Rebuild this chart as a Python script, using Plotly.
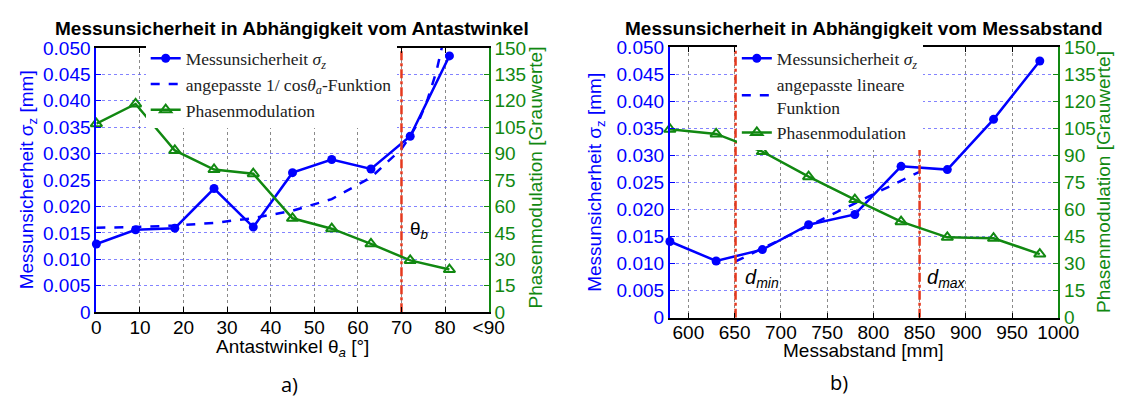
import plotly.graph_objects as go

# ---------------- data ----------------
angle_deg = [0, 9, 18, 27, 36, 45, 54, 63, 72, 81]
sigma_angle = [0.0129, 0.0156, 0.0159, 0.0234, 0.0161, 0.0264, 0.0289, 0.0271, 0.0333, 0.0485]
phase_angle = [107.0, 118.2, 91.8, 81.0, 78.6, 53.3, 47.4, 38.8, 29.4, 24.2]
fit_angle_x = [0, 9, 18, 27, 36, 45, 54, 63, 70, 72, 74, 76, 78, 80]
fit_angle_y = [0.0160, 0.0161, 0.0164, 0.0169, 0.0178, 0.0192, 0.0214, 0.0255,
               0.0309, 0.0333, 0.0362, 0.0403, 0.0455, 0.0528]
theta_b = 70

dist_mm = [580, 630, 680, 730, 780, 830, 880, 930, 980]
sigma_dist = [0.0141, 0.0105, 0.0126, 0.0172, 0.0191, 0.0280, 0.0274, 0.0367, 0.0475]
phase_dist = [104.6, 102.0, 92.2, 78.3, 65.6, 53.3, 44.6, 44.1, 35.3]
fit_dist_x = [651, 850]
fit_dist_y = [0.0104, 0.0270]
d_min = 651
d_max = 850

angle_ticks = [0, 10, 20, 30, 40, 50, 60, 70, 80, 90]
angle_ticktext = ["0", "10", "20", "30", "40", "50", "60", "70", "80", "&lt;90"]
dist_ticks = [600, 650, 700, 750, 800, 850, 900, 950, 1000]
sigma_ticks = [0, 0.005, 0.010, 0.015, 0.020, 0.025, 0.030, 0.035, 0.040, 0.045, 0.050]
sigma_ticktext = ["0", "0.005", "0.010", "0.015", "0.020", "0.025", "0.030",
                  "0.035", "0.040", "0.045", "0.050"]
phase_ticks = [0, 15, 30, 45, 60, 75, 90, 105, 120, 135, 150]

# ---------------- style ----------------
W, H = 1134, 410
BLUE = "#0000ff"
GREEN = "#118811"
RED = "#e6391e"
SANS = "Liberation Sans, Arial, sans-serif"
SERIF = "Liberation Serif, Times New Roman, serif"
FS = 19


def px(x):
    return x / W


def py(y):
    return 1 - y / H


fig = go.Figure()

# ---- left chart ----
fig.add_trace(go.Scatter(x=angle_deg, y=sigma_angle, mode="lines+markers",
                         name="Messunsicherheit <i>σ<sub>z</sub></i>",
                         line=dict(color=BLUE, width=2.5),
                         marker=dict(symbol="circle", size=9, color=BLUE),
                         xaxis="x", yaxis="y", legend="legend", cliponaxis=False))
fig.add_trace(go.Scatter(x=fit_angle_x, y=fit_angle_y, mode="lines",
                         name="angepasste 1/ cos<i>θ<sub>a</sub></i>-Funktion",
                         line=dict(color=BLUE, width=2.5, dash="dash"),
                         xaxis="x", yaxis="y", legend="legend"))
fig.add_trace(go.Scatter(x=[theta_b, theta_b], y=[0, 0.05], mode="lines",
                         showlegend=False,
                         line=dict(color=RED, width=2.5, dash="dashdot"),
                         xaxis="x", yaxis="y"))
fig.add_trace(go.Scatter(x=angle_deg, y=phase_angle, mode="lines+markers",
                         name="Phasenmodulation",
                         line=dict(color=GREEN, width=2.5),
                         marker=dict(symbol="triangle-up-open", size=10, color=GREEN,
                                     line=dict(width=2, color=GREEN)),
                         xaxis="x", yaxis="y2", legend="legend", cliponaxis=False))

# ---- right chart ----
fig.add_trace(go.Scatter(x=dist_mm, y=sigma_dist, mode="lines+markers",
                         name="Messunsicherheit <i>σ<sub>z</sub></i>",
                         line=dict(color=BLUE, width=2.5),
                         marker=dict(symbol="circle", size=9, color=BLUE),
                         xaxis="x2", yaxis="y3", legend="legend2", cliponaxis=False))
fig.add_trace(go.Scatter(x=fit_dist_x, y=fit_dist_y, mode="lines",
                         name="angepasste lineare<br>Funktion",
                         line=dict(color=BLUE, width=2.5, dash="dash"),
                         xaxis="x2", yaxis="y3", legend="legend2"))
for d in (d_min, d_max):
    fig.add_trace(go.Scatter(x=[d, d], y=[0, 0.05], mode="lines", showlegend=False,
                             line=dict(color=RED, width=2.5, dash="dashdot"),
                             xaxis="x2", yaxis="y3"))
fig.add_trace(go.Scatter(x=dist_mm, y=phase_dist, mode="lines+markers",
                         name="Phasenmodulation",
                         line=dict(color=GREEN, width=2.5),
                         marker=dict(symbol="triangle-up-open", size=10, color=GREEN,
                                     line=dict(width=2, color=GREEN)),
                         xaxis="x2", yaxis="y4", legend="legend2", cliponaxis=False))

# ---------------- axes ----------------
L_X = [px(93.5), px(495)]
R_X = [px(680.5), px(1078)]
L_Y = [py(318.5), py(40)]
R_Y = [py(324.3), py(39.5)]

xcommon = dict(showline=True, linecolor="black", linewidth=2, mirror="ticks",
               ticks="inside", ticklen=5, tickwidth=1, tickcolor="black",
               showgrid=True, gridcolor="#8a8a8a", griddash="dot", gridwidth=1,
               zeroline=False, tickfont=dict(family=SANS, size=FS, color="black"),
               ticklabelstandoff=-3)
ycommon = dict(showline=True, linecolor=BLUE, linewidth=2, mirror=False,
               ticks="inside", ticklen=5, tickwidth=1, tickcolor=BLUE,
               showgrid=True, gridcolor="rgba(90,90,255,0.75)", griddash="dot",
               gridwidth=1, zeroline=False,
               tickfont=dict(family=SANS, size=FS, color=BLUE),
               tickvals=sigma_ticks, ticktext=sigma_ticktext, range=[0, 0.05])
y2common = dict(showline=True, linecolor=GREEN, linewidth=2, side="right",
                ticks="inside", ticklen=5, tickwidth=1, tickcolor=GREEN,
                showgrid=False, zeroline=False,
                tickfont=dict(family=SANS, size=FS, color=GREEN),
                tickvals=phase_ticks, range=[0, 150])

fig.update_layout(
    xaxis=dict(domain=L_X, anchor="y", range=[0, 90], tickvals=angle_ticks,
               ticktext=angle_ticktext, **xcommon),
    yaxis=dict(domain=L_Y, anchor="x", **ycommon),
    yaxis2=dict(overlaying="y", anchor="x", **y2common),
    xaxis2=dict(domain=R_X, anchor="y3", range=[580, 1000], tickvals=dist_ticks,
                **xcommon),
    yaxis3=dict(domain=R_Y, anchor="x2", **ycommon),
    yaxis4=dict(overlaying="y3", anchor="x2", **y2common),
)

legend_common = dict(bgcolor="white", borderwidth=0, xanchor="left", yanchor="top",
                     font=dict(family=SERIF, size=17.5, color="#222222"),
                     tracegroupgap=0, itemwidth=30)
fig.update_layout(
    legend=dict(x=px(144), y=py(32), **legend_common),
    legend2=dict(x=px(749), y=py(32), **legend_common),
)

# ---------------- texts ----------------
ann = []


def text(x, y, s, size=FS, color="black", family=SANS, angle=0, xanchor="center",
         yanchor="middle", bold=False):
    if bold:
        s = "<b>" + s + "</b>"
    ann.append(dict(x=px(x), y=py(y), xref="paper", yref="paper", text=s,
                    showarrow=False, textangle=angle, xanchor=xanchor, yanchor=yanchor,
                    font=dict(family=family, size=size, color=color)))


text(294, 19, "Messunsicherheit in Abhängigkeit vom Antastwinkel", bold=True)
text(879, 19, "Messunsicherheit in Abhängigkeit vom Messabstand", bold=True)
text(23, 179, "Messunsicherheit σ<sub>z</sub> [mm]", color=BLUE, angle=-90)
text(605, 182, "Messunsicherheit σ<sub>z</sub> [mm]", color=BLUE, angle=-90)
text(543, 177, "Phasenmodulation [Grauwerte]", color=GREEN, angle=-90)
text(1124, 181, "Phasenmodulation [Grauwerte]", color=GREEN, angle=-90)
text(294, 342, "Antastwinkel θ<sub><i>a</i></sub> [°]", yanchor="top")
text(879, 359, "Messabstand [mm]")
text(291, 395, "a)", size=20, family="Open Sans, sans-serif")
text(854, 393, "b)", size=20, family="Open Sans, sans-serif")

ann.append(dict(x=71.6, y=0.0155, xref="x", yref="y", text="θ<sub><i>b</i></sub>",
                showarrow=False, xanchor="left", yanchor="middle",
                font=dict(family=SANS, size=FS, color="black")))
ann.append(dict(x=658.6, y=0.0072, xref="x2", yref="y3", text="<i>d<sub>min</sub></i>",
                showarrow=False, xanchor="left", yanchor="middle",
                font=dict(family=SANS, size=FS + 1, color="black")))
ann.append(dict(x=856.3, y=0.0072, xref="x2", yref="y3", text="<i>d<sub>max</sub></i>",
                showarrow=False, xanchor="left", yanchor="middle",
                font=dict(family=SANS, size=FS + 1, color="black")))

fig.update_layout(annotations=ann, width=W, height=H,
                  margin=dict(l=0, r=0, t=0, b=0),
                  paper_bgcolor="white", plot_bgcolor="white")

fig.write_html("out.html", config={"displayModeBar": False},
               post_script="document.body.style.margin='0';")
